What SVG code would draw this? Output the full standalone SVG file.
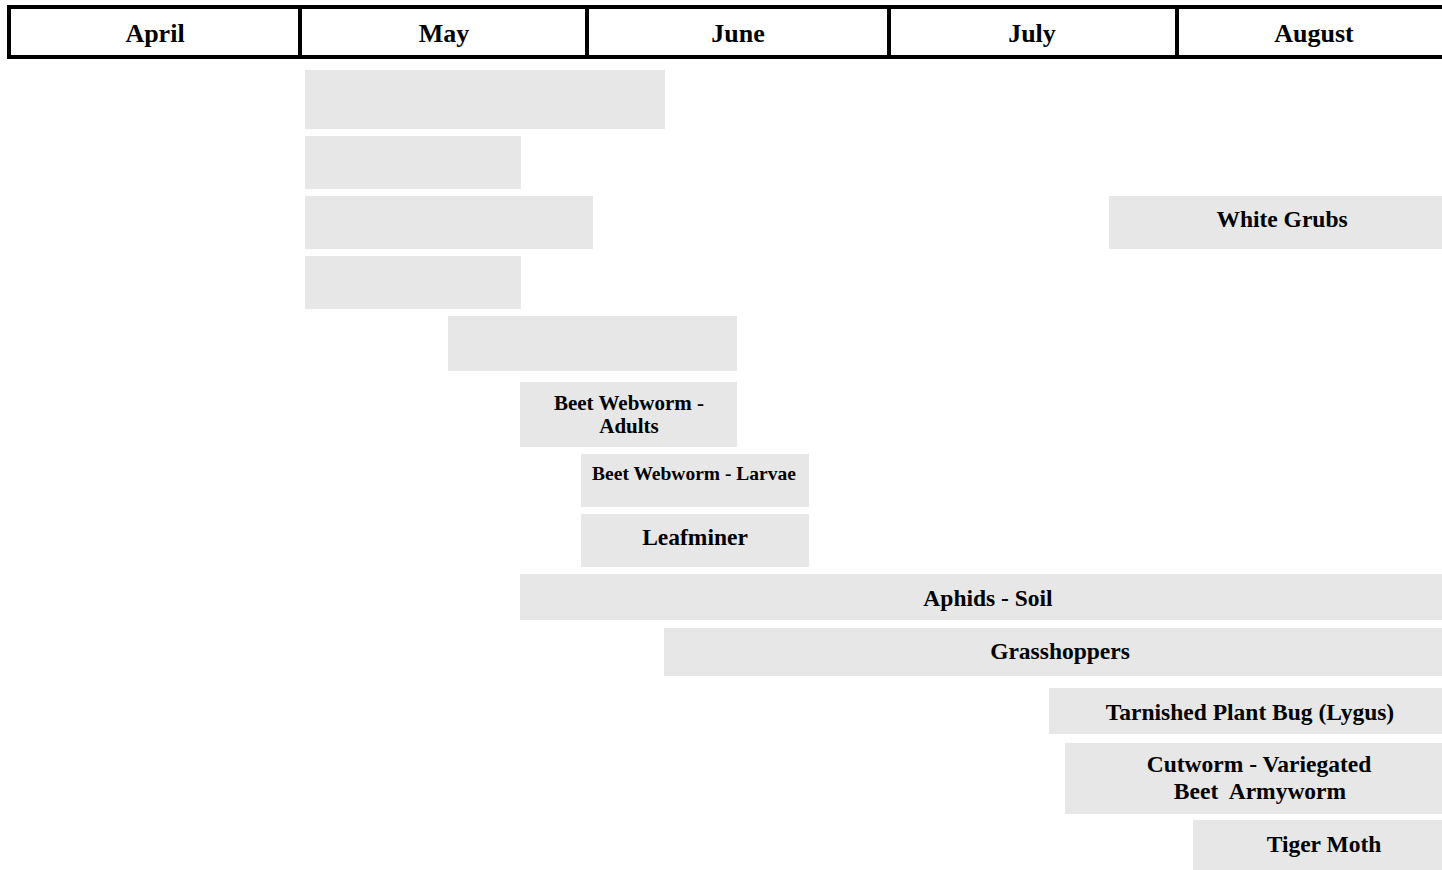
<svg xmlns="http://www.w3.org/2000/svg" width="1442" height="870" viewBox="0 0 1442 870">
<style>
.bar{fill:#e7e7e7}
.hdr{fill:none;stroke:#000;stroke-width:4}
text{font-family:"Liberation Serif","Times New Roman",serif;font-weight:bold;fill:#000;text-anchor:middle;white-space:pre}
.m{font-size:26px}
.t{font-size:23.5px}
.a{font-size:21px}
.l{font-size:19.5px}
</style>
<rect x="0" y="0" width="1442" height="870" fill="#fff"/>
<g id="header">
<rect class="hdr" x="9" y="7" width="1450" height="50"/>
<line class="hdr" x1="300" y1="7" x2="300" y2="57"/>
<line class="hdr" x1="587" y1="7" x2="587" y2="57"/>
<line class="hdr" x1="889" y1="7" x2="889" y2="57"/>
<line class="hdr" x1="1177" y1="7" x2="1177" y2="57"/>
<text class="m" x="155" y="42">April</text>
<text class="m" x="444" y="42">May</text>
<text class="m" x="738" y="42">June</text>
<text class="m" x="1032" y="42">July</text>
<text class="m" x="1314" y="42">August</text>
</g>
<g id="bar1"><rect class="bar" x="305" y="70" width="360" height="59"/></g>
<g id="bar2"><rect class="bar" x="305" y="136" width="216" height="53"/></g>
<g id="bar3"><rect class="bar" x="305" y="196" width="288" height="53"/></g>
<g id="bar4"><rect class="bar" x="305" y="256" width="216" height="53"/></g>
<g id="bar5"><rect class="bar" x="448" y="316" width="289" height="55"/></g>
<g id="white-grubs"><rect class="bar" x="1109" y="196" width="333" height="53"/><text class="t" x="1282" y="227">White Grubs</text></g>
<g id="beet-webworm-adults"><rect class="bar" x="520" y="382" width="217" height="65"/><text class="a" x="629" y="410">Beet Webworm -</text><text class="a" x="629" y="433">Adults</text></g>
<g id="beet-webworm-larvae"><rect class="bar" x="581" y="454" width="228" height="53"/><text class="l" x="694" y="480">Beet Webworm - Larvae</text></g>
<g id="leafminer"><rect class="bar" x="581" y="514" width="228" height="53"/><text class="t" x="695" y="545">Leafminer</text></g>
<g id="aphids-soil"><rect class="bar" x="520" y="574" width="922" height="46"/><text class="t" x="988" y="606">Aphids - Soil</text></g>
<g id="grasshoppers"><rect class="bar" x="664" y="628" width="778" height="48"/><text class="t" x="1060" y="659">Grasshoppers</text></g>
<g id="tarnished-plant-bug"><rect class="bar" x="1049" y="688" width="393" height="46"/><text class="t" x="1250" y="720">Tarnished Plant Bug (Lygus)</text></g>
<g id="cutworm"><rect class="bar" x="1065" y="743" width="377" height="71"/><text class="t" x="1259" y="772">Cutworm - Variegated</text><text class="t" x="1260" y="799">Beet  Armyworm</text></g>
<g id="tiger-moth"><rect class="bar" x="1193" y="820" width="249" height="50"/><text class="t" x="1324" y="852">Tiger Moth</text></g>
<g id="connectors"/>
</svg>
